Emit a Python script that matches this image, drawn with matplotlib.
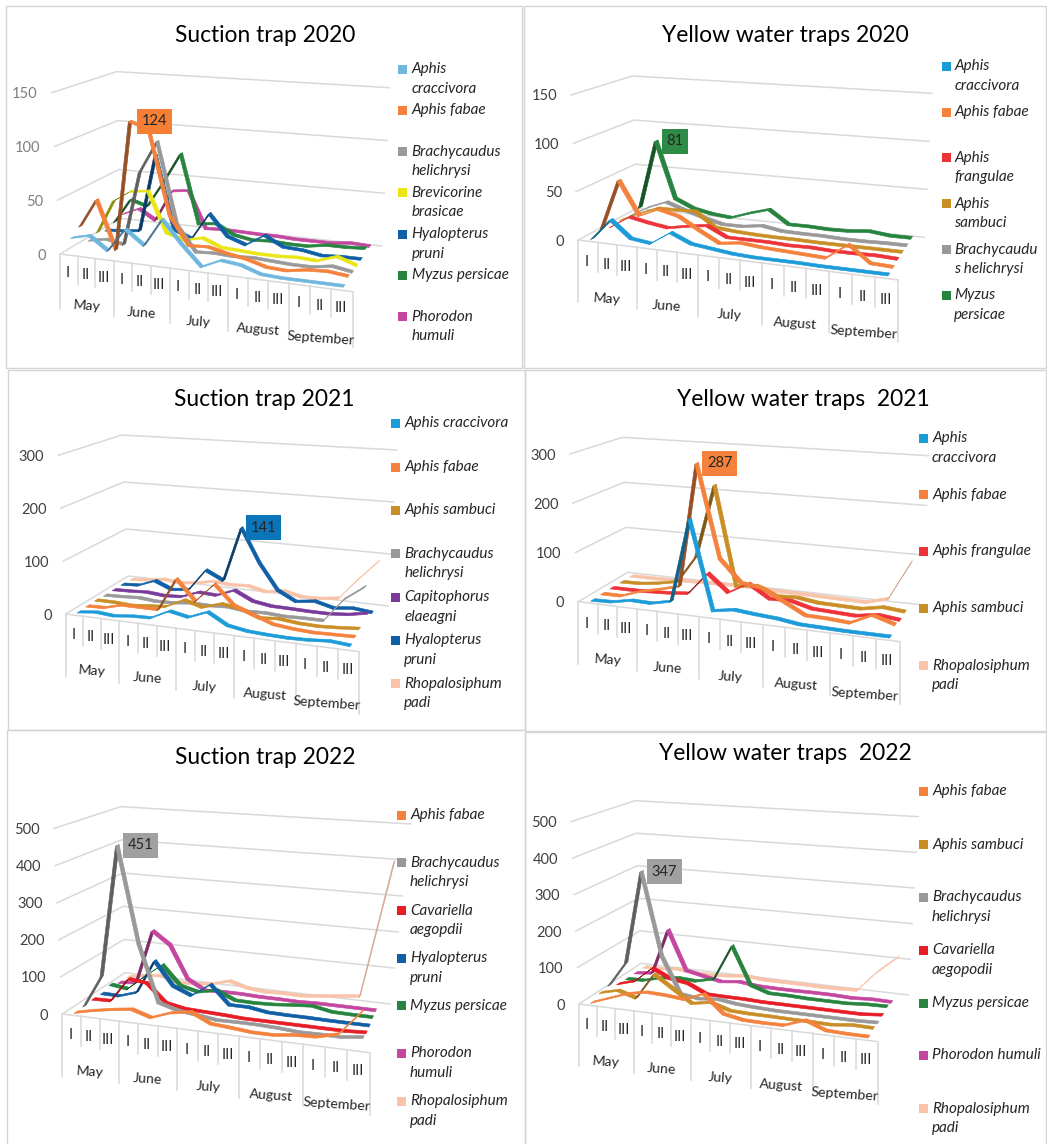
import numpy as np
import matplotlib
matplotlib.use("Agg")
import matplotlib.pyplot as plt
from matplotlib.collections import PolyCollection
from matplotlib.patches import Rectangle
from matplotlib.colors import to_rgb

plt.rcParams['font.family'] = ['Lato', 'DejaVu Sans']

DECADES = ["I", "II", "III"] * 5
MONTHS = ["May", "June", "July", "August", "September"]

# ---- data (number of aphids per ten-day period) ----
CRAC = "Aphis\ncraccivora"; FAB = "Aphis fabae"; BRA = "Brachycaudus\nhelichrysi"
MYZ = "Myzus persicae"; HYA = "Hyalopterus\npruni"; PHO = "Phorodon\nhumuli"
RHO = "Rhopalosiphum\npadi"

s20_crac = [14, 18, 6, 28, 15, 41, 20, 2, 10, 8, 2, 1, 1, 1, 1]
s20_fab = [20, 47, 2, 124, 117, 40, 14, 15, 11, 8, 3, 2, 5, 6, 4]
s20_bra = [2, 5, 2, 72, 103, 26, 3, 4, 3, 4, 3, 2, 2, 5, 2]
s20_bre = [5, 37, 48, 50, 12, 7, 11, 4, 3, 2, 2, 3, 2, 8, 2]
s20_hya = [2, 3, 5, 80, 10, 3, 29, 9, 3, 14, 5, 4, 1, 2, 2]
s20_myz = [5, 29, 24, 50, 79, 12, 14, 5, 2, 3, 2, 2, 5, 5, 6]
s20_pho = [8, 15, 5, 36, 38, 2, 3, 2.5, 2, 2, 1, 1, 1, 3, 2]

y20_crac = [0, 22, 5, 2.5, 16, 7, 4.5, 2, 1, 1, 1, 0.5, 0.5, 0.5, 0.5]
y20_fab = [5, 58, 23, 32, 27, 15, 4, 7, 5, 4, 3, 2, 18, 2, 1]
y20_fra = [1.5, 14, 10, 7, 11, 14, 4, 4, 4, 3, 3.5, 2.5, 2.5, 3, 2]
y20_sam = [3, 12, 20, 20, 21, 6, 4, 3, 2.5, 2.5, 2, 2, 2, 2, 2]
y20_bra = [2, 13, 21, 14, 8, 3, 3, 6, 2.5, 2, 2, 1, 1, 1.5, 1.5]
y20_myz = [5, 81, 19, 10, 6, 4, 11, 17, 3, 3, 2, 2.5, 4.5, 2, 2]

s21_crac = [1, 5, 2, 6, 7, 24, 17, 31, 11, 5, 3, 2, 3, 6, 3]
s21_fab = [2, 3, 12, 12, 12, 74, 36, 72, 37, 24, 11, 7, 5, 6, 7]
s21_sam = [3, 3, 1, 4, 7, 24, 14, 25, 20, 7, 10, 6, 5, 7, 10]
s21_bra = [2, 3, 5, 2, 3, 7, 6, 8, 4, 5, 3, 4, 4, 48, 75]
s21_cap = [2, 3, 5, 2, 4, 17, 15, 29, 12, 6.5, 6, 5, 5, 8, 15]
s21_hya = [2, 4, 17, 3, 7, 50, 33, 141, 75, 26, 8, 13, 4, 8, 4]
s21_rho = [1, 3, 9, 5, 9, 16, 13, 15, 7, 13, 5, 6, 11, 52, 90]

y21_crac = [0, 1, 9, 8, 17, 185, 8, 15, 11, 8, 2, 1, 0, 0, 0]
y21_fab = [1, 1, 15, 24, 35, 287, 100, 56, 50, 28, 6, 5, 2, 22, 9]
y21_fra = [1, 1, 2, 4, 8, 54, 19, 42, 16, 17, 6, 4, 2, 9, 4]
y21_sam = [1, 2, 7, 15, 72, 225, 19, 25, 8, 10, 4, 3, 2, 10, 6]
y21_rho = [1, 1, 1.5, 3, 4, 5, 6, 4, 3, 3, 2, 1.5, 1, 13, 90]

s22_fab = [0, 11, 20, 27, 11, 30, 39, 14, 10, 5, 5, 12, 14, 28, 94]
s22_bra = [1, 88, 451, 188, 35, 20, 14, 7, 8, 8, 6, 2, 3, 3, 10]
s22_cav = [4, 5, 72, 66, 18, 8, 6, 4, 1, 1, 1, 1, 1, 1, 4]
s22_hya = [3, 2, 18, 112, 48, 27, 64, 14, 14, 6, 5, 5, 4, 4, 4]
s22_myz = [12, 5, 47, 85, 32, 20, 31, 9, 8, 10, 15, 19, 9, 8, 8]
s22_pho = [1, 5, 162, 126, 34, 7, 9, 9, 7, 7, 6, 8, 8, 8, 8]
s22_rho = [0, 9, 15, 1, 2, 8, 22, 8, 3, 5, 4, 10, 16, 22, 400]

y22_fab = [0, 18, 36, 46, 44, 39, 60, 13, 3, 2, 3, 23, 3, 1, 1]
y22_sam = [11, 23, 8, 80, 46, 12, 21, 5, 3, 3, 2, 2, 1, 7, 6]
y22_bra = [15, 85, 347, 115, 15, 8, 13, 6, 3, 1, 1, 1, 1, 1, 3]
y22_cav = [3, 17, 60, 36, 28, 4, 3, 3, 1, 1, 1, 1, 1, 1, 6]
y22_myz = [1, 2, 15, 21, 18, 30, 130, 25, 8, 8, 6, 6, 6, 10, 11]
y22_pho = [1, 6, 140, 26, 15, 5, 11, 5, 4, 4, 5, 5, 3, 6, 5]
y22_rho = [1, 1, 7, 1, 1, 4, 10, 5, 5, 5, 4, 5, 7, 65, 112]

C_CRAC = "#1b9cd8"; C_FAB = "#f4813c"; C_BRA = "#999999"; C_SAM = "#c98e25"; C_FRA = "#ee3338"
C_HYA = "#0f5fa6"; C_MYZ = "#26843f"; C_PHO = "#c4479f"; C_RHO = "#f8c3a8"; C_CAV = "#e71c25"
C_BRE = "#e9e614"; C_CAP = "#7a3a9a"

panels = [
 dict(title="Suction trap 2020", tc=(265, 36), off=(0, 0), vmax=150, step=50, tick="#7f7f7f",
      fl=[(180,762),(155,278)], bl=[(360,655),(350,215)], br=[(1145,738),(1168,263)], fr=(1058,875),
      drop=(28,55,18,48),
      series=[(CRAC,"#6fb7de",s20_crac,(207,266)),(FAB,C_FAB,s20_fab,(330,)),(BRA,C_BRA,s20_bra,(455,513)),
              ("Brevicorine\nbrasicae",C_BRE,s20_bre,(578,637)),(HYA,C_HYA,s20_hya,(702,761)),
              (MYZ,C_MYZ,s20_myz,(826,)),(PHO,C_PHO,s20_pho,(950,1008))],
      lx=(1208,1235), peak=(1,3,124,"#f58035",35,24)),
 dict(title="Yellow water traps 2020", tc=(785, 36), off=(525, 0), vmax=150, step=50, tick="#404040",
      fl=[(160,720),(138,285)], bl=[(335,625),(322,228)], br=[(1198,712),(1220,280)], fr=(1120,840),
      drop=(30,62,21,54),
      series=[(CRAC,C_CRAC,y20_crac,(198,258)),(FAB,C_FAB,y20_fab,(336,)),("Aphis\nfrangulae",C_FRA,y20_fra,(473,531)),
              ("Aphis\nsambuci",C_SAM,y20_sam,(611,669)),("Brachycaudu\ns helichrysi",C_BRA,y20_bra,(749,807)),
              ("Myzus\npersicae",C_MYZ,y20_myz,(885,945))],
      lx=(1264,1288), peak=(5,1,81,"#2e8b46",26,19)),
 dict(title="Suction trap 2021", tc=(264, 399), off=(0, 370), vmax=300, step=100, tick="#404040",
      fl=[(197,732),(175,256)], bl=[(385,618),(365,195)], br=[(1165,708),(1190,240)], fr=(1078,845),
      drop=(30,62,20,53),
      series=[("Aphis craccivora",C_CRAC,s21_crac,(160,)),(FAB,C_FAB,s21_fab,(291,)),("Aphis sambuci",C_SAM,s21_sam,(420,)),
              (BRA,C_BRA,s21_bra,(551,610)),("Capitophorus\nelaeagni",C_CAP,s21_cap,(681,740)),
              (HYA,C_HYA,s21_hya,(811,869)),(RHO,C_RHO,s21_rho,(941,1000))],
      lx=(1187,1213), peak=(5,7,141,"#0a75b8",35,22)),
 dict(title="Yellow water traps  2021", tc=(803, 400), off=(525, 370), vmax=300, step=100, tick="#404040",
      fl=[(160,695),(135,252)], bl=[(308,607),(292,202)], br=[(1195,705),(1210,257)], fr=(1125,815),
      drop=(30,62,21,54),
      series=[(CRAC,C_CRAC,y21_crac,(204,263)),(FAB,C_FAB,y21_fab,(374,)),("Aphis frangulae",C_FRA,y21_fra,(544,)),
              ("Aphis sambuci",C_SAM,y21_sam,(714,)),(RHO,C_RHO,y21_rho,(887,945))],
      lx=(1196,1221), peak=(1,5,287,"#f4813c",35,23)),
 dict(title="Suction trap 2022", tc=(265, 757), off=(0, 730), vmax=500, step=100, tick="#404040",
      fl=[(187,852),(160,296)], bl=[(375,728),(362,230)], br=[(1170,822),(1232,282)], fr=(1110,968),
      drop=(30,62,20,53),
      series=[(FAB,C_FAB,s22_fab,(256,)),(BRA,C_BRA,s22_bra,(398,457)),("Cavariella\naegopdii",C_CAV,s22_cav,(542,600)),
              (HYA,C_HYA,s22_hya,(685,743)),(MYZ,C_MYZ,s22_myz,(827,)),(PHO,C_PHO,s22_pho,(970,1029)),
              (RHO,C_RHO,s22_rho,(1113,1172))],
      lx=(1205,1230), peak=(1,2,451,"#a0a0a0",35,23)),
 dict(title="Yellow water traps  2022", tc=(785, 753), off=(525, 730), vmax=500, step=100, tick="#404040",
      fl=[(162,822),(138,275)], bl=[(348,700),(330,212)], br=[(1150,795),(1180,260)], fr=(1058,935),
      drop=(30,62,20,54),
      series=[(FAB,C_FAB,y22_fab,(184,)),("Aphis sambuci",C_SAM,y22_sam,(344,)),(BRA,C_BRA,y22_bra,(501,560)),
              ("Cavariella\naegopodii",C_CAV,y22_cav,(661,719)),(MYZ,C_MYZ,y22_myz,(819,)),
              ("Phorodon humuli",C_PHO,y22_pho,(976,)),(RHO,C_RHO,y22_rho,(1136,1195))],
      lx=(1196,1221), peak=(2,2,347,"#a0a0a0",35,23)),
]

borders = [((6,6),(522,368)), ((524,6),(1046,368)), ((8,370),(525,730)),
           ((525,370),(1046,731)), ((7,730),(525,1150)), ((525,732),(1046,1150))]

GRID = "#d9d9d9"
PERSPECTIVE = 0.107
fig = plt.figure(figsize=(10.47, 11.44), dpi=100, facecolor="white")
ax = fig.add_axes([0, 0, 1, 1])
ax.set_xlim(0, 1047); ax.set_ylim(1144, 0); ax.axis("off")

for (a, b) in borders:
    ax.add_patch(Rectangle(a, b[0]-a[0], b[1]-a[1], fill=False, ec="#d4d4d4", lw=1.0, zorder=0))


def make_projection(p):
    ox, oy = p["off"]
    def px(q):
        return np.array([ox + q[0]/3.0, oy + q[1]/3.0])
    fl0, fl1 = px(p["fl"][0]), px(p["fl"][1])
    bl0, bl1 = px(p["bl"][0]), px(p["bl"][1])
    br0, br1 = px(p["br"][0]), px(p["br"][1])
    fr0 = px(p["fr"])
    fr1 = fr0 + (fl1 - fl0) + (br1 - br0) - (bl1 - bl0)
    vmax = p["vmax"]
    def proj(u, d, v):
        """u: 0-1 along time, d: 0-1 into depth, v: value"""
        u = u - PERSPECTIVE*u*(1-u)
        t = v / vmax
        b = (1-u)*(1-d)*fl0 + u*(1-d)*fr0 + (1-u)*d*bl0 + u*d*br0
        h = (1-u)*(1-d)*fl1 + u*(1-d)*fr1 + (1-u)*d*bl1 + u*d*br1
        return b + (h - b)*t
    return proj


def darken(c):
    f = 0.86 if c == C_RHO else 0.62
    return tuple(x*f for x in to_rgb(c))


MONTH_DY = [1, 1, 2, 2, 3]

for p in panels:
    proj = make_projection(p)
    ox, oy = p["off"]
    vmax, step = p["vmax"], p["step"]
    # walls
    for v in np.arange(0, vmax + 1, step):
        a, b, c = proj(0, 0, v), proj(0, 1, v), proj(1, 1, v)
        ax.plot([a[0], b[0], c[0]], [a[1], b[1], c[1]], color=GRID, lw=1.1, zorder=1,
                solid_joinstyle="miter")
        ax.text(a[0]-14, a[1]+1.5, f"{int(v)}", ha="right", va="center", fontsize=10.5,
                color=p["tick"], zorder=6)
    a, b = proj(0, 0, 0), proj(1, 0, 0)
    ax.plot([a[0], b[0]], [a[1], b[1]], color=GRID, lw=1.1, zorder=1)
    short, long_, rom, mon = p["drop"]
    for i in range(16):
        e = proj(i/15, 0, 0)
        ln = long_ if i % 3 == 0 else short
        ax.plot([e[0], e[0]], [e[1], e[1]+ln], color=GRID, lw=1.1, zorder=1)
    for i, lab in enumerate(DECADES):
        e = proj((i+.5)/15, 0, 0)
        ax.text(e[0]-1, e[1]+rom, lab, ha="center", va="center", fontsize=10.5, color="#262626", zorder=6)
    for m, lab in enumerate(MONTHS):
        e = proj((3*m+1.5)/15, 0, 0)
        ax.text(e[0], e[1]+mon+MONTH_DY[m], lab, ha="center", va="center", fontsize=10.2, color="#262626",
                rotation=-4, rotation_mode="anchor", zorder=6)
    # series ribbons, back to front
    n = len(p["series"])
    w = 0.42/n
    for k in range(n-1, -1, -1):
        name, col, vals, _ = p["series"][k]
        d = (k+.5)/n
        polys, cols = [], []
        for i in range(len(vals)-1):
            u0, u1 = (i+.5)/15, (i+1.5)/15
            a0 = proj(u0, d-w/2, vals[i]); a1 = proj(u1, d-w/2, vals[i+1])
            b1 = proj(u1, d+w/2, vals[i+1]); b0 = proj(u0, d+w/2, vals[i])
            sx, sy = a1-a0
            ex, ey = b0-a0
            under = sx*ey - sy*ex > 0
            polys.append([a0, a1, b1, b0])
            cols.append(darken(col) if under else to_rgb(col))
        pc = PolyCollection(polys, facecolors=cols, edgecolors=cols, linewidths=0.45,
                            zorder=3+(n-k)*0.01)
        ax.add_collection(pc)
    # title
    ax.text(p["tc"][0], p["tc"][1], p["title"], ha="center", va="center", fontsize=16.4, color="black", zorder=6)
    # legend
    sx, tx = p["lx"]
    for name, col, vals, ys in p["series"]:
        ax.add_patch(Rectangle((ox+sx/3-4.5, oy+ys[0]/3-4.5), 9, 9, fc=col, ec="none", zorder=6))
        for line, y in zip(name.split("\n"), ys):
            ax.text(ox+tx/3, oy+y/3, line, ha="left", va="center", fontsize=11,
                    style="italic", color="#262626", zorder=6)
    # peak label
    k, i, val, col, bw, dx = p["peak"]
    pk = proj((i+.5)/15, (k+.5)/n, val)
    cx, cy = pk[0]+dx, pk[1]
    ax.add_patch(Rectangle((cx-bw/2, cy-12.5), bw, 25, fc=col, ec="none", zorder=7))
    ax.text(cx, cy, str(val), ha="center", va="center", fontsize=10.5, color="#262626", zorder=8)

fig.savefig("out.png", dpi=100, facecolor="white")
